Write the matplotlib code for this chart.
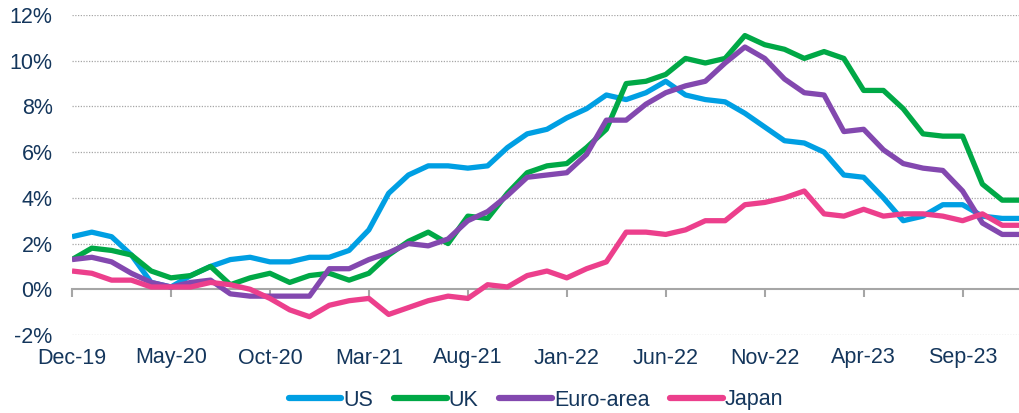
import matplotlib
matplotlib.use("Agg")
import matplotlib.pyplot as plt
from matplotlib.ticker import FuncFormatter

plt.rcParams['font.family'] = ['Liberation Sans', 'DejaVu Sans']

# Monthly data Dec-19 .. Dec-23 (year-on-year inflation, %)
us = [2.3, 2.5, 2.3, 1.5, 0.3, 0.1, 0.6, 1.0, 1.3, 1.4, 1.2, 1.2, 1.4,
      1.4, 1.7, 2.6, 4.2, 5.0, 5.4, 5.4, 5.3, 5.4, 6.2, 6.8, 7.0, 7.5,
      7.9, 8.5, 8.3, 8.6, 9.1, 8.5, 8.3, 8.2, 7.7, 7.1, 6.5, 6.4, 6.0,
      5.0, 4.9, 4.0, 3.0, 3.2, 3.7, 3.7, 3.2, 3.1, 3.1]
uk = [1.3, 1.8, 1.7, 1.5, 0.8, 0.5, 0.6, 1.0, 0.2, 0.5, 0.7, 0.3, 0.6,
      0.7, 0.4, 0.7, 1.5, 2.1, 2.5, 2.0, 3.2, 3.1, 4.2, 5.1, 5.4, 5.5,
      6.2, 7.0, 9.0, 9.1, 9.4, 10.1, 9.9, 10.1, 11.1, 10.7, 10.5, 10.1, 10.4,
      10.1, 8.7, 8.7, 7.9, 6.8, 6.7, 6.7, 4.6, 3.9, 3.9]
euro = [1.3, 1.4, 1.2, 0.7, 0.3, 0.1, 0.3, 0.4, -0.2, -0.3, -0.3, -0.3, -0.3,
        0.9, 0.9, 1.3, 1.6, 2.0, 1.9, 2.2, 3.0, 3.4, 4.1, 4.9, 5.0, 5.1,
        5.9, 7.4, 7.4, 8.1, 8.6, 8.9, 9.1, 9.9, 10.6, 10.1, 9.2, 8.6, 8.5,
        6.9, 7.0, 6.1, 5.5, 5.3, 5.2, 4.3, 2.9, 2.4, 2.4]
japan = [0.8, 0.7, 0.4, 0.4, 0.1, 0.1, 0.1, 0.3, 0.2, 0.0, -0.4, -0.9, -1.2,
         -0.7, -0.5, -0.4, -1.1, -0.8, -0.5, -0.3, -0.4, 0.2, 0.1, 0.6, 0.8, 0.5,
         0.9, 1.2, 2.5, 2.5, 2.4, 2.6, 3.0, 3.0, 3.7, 3.8, 4.0, 4.3, 3.3,
         3.2, 3.5, 3.2, 3.3, 3.3, 3.2, 3.0, 3.3, 2.8, 2.8]

series_names = ['US', 'UK', 'Euro-area', 'Japan']
series_colors = ['#009FE3', '#00A846', '#8348AF', '#EC3F8C']

tick_labels = ['Dec-19', 'May-20', 'Oct-20', 'Mar-21', 'Aug-21',
               'Jan-22', 'Jun-22', 'Nov-22', 'Apr-23', 'Sep-23']
tick_step = 5
y_ticks = [-2, 0, 2, 4, 6, 8, 10, 12]

text_color = '#14365C'
grid_color = '#A6A6A6'
fs = 15.5

fig = plt.figure(figsize=(10.2, 4.13), dpi=100)
ax = fig.add_axes([72 / 1020, 1 - 335 / 413, 1 - 72 / 1020, (335 - 15) / 413])

x = list(range(len(us)))
for vals, name, col in zip([us, uk, euro, japan], series_names, series_colors):
    ax.plot(x, vals, color=col, lw=3.8, label=name,
            solid_joinstyle='round', solid_capstyle='butt')

ax.set_xlim(0, 47.9)
ax.set_ylim(-2, 12)

# gridlines
for yv in y_ticks:
    if yv != 0:
        ax.axhline(yv, color=grid_color, lw=0.9, ls=(0, (1, 1.2)), zorder=0)

for s in ['top', 'right', 'left']:
    ax.spines[s].set_visible(False)
ax.spines['bottom'].set_position(('data', 0))
ax.spines['bottom'].set_color('#A6A6A6')
ax.spines['bottom'].set_linewidth(1.5)
ax.spines['bottom'].set_zorder(0.5)

tick_pos = [i * tick_step for i in range(len(tick_labels))]
ax.set_xticks(tick_pos)
ax.tick_params(axis='x', direction='out', length=6, width=1.5, color='#A6A6A6',
               labelbottom=False)

sec = ax.secondary_xaxis(0)
sec.set_xticks(tick_pos, tick_labels)
sec.tick_params(length=0, pad=9, labelsize=fs, labelcolor=text_color)
sec.spines['bottom'].set_visible(False)

ax.set_yticks(y_ticks)
ax.yaxis.set_major_formatter(FuncFormatter(lambda v, p: f'{v:.0f}%'))
ax.tick_params(axis='y', length=0, pad=14, labelsize=fs, labelcolor=text_color)

leg = fig.legend(loc='center', bbox_to_anchor=(536 / 1020, 1 - 400 / 413), ncol=4,
                 frameon=False, fontsize=fs, handlelength=2.45, handletextpad=0.1,
                 columnspacing=0.95, labelcolor=text_color)
for h in leg.legend_handles:
    h.set_solid_capstyle('round')
    h.set_linewidth(4.5)

fig.savefig('out.png', dpi=100)
